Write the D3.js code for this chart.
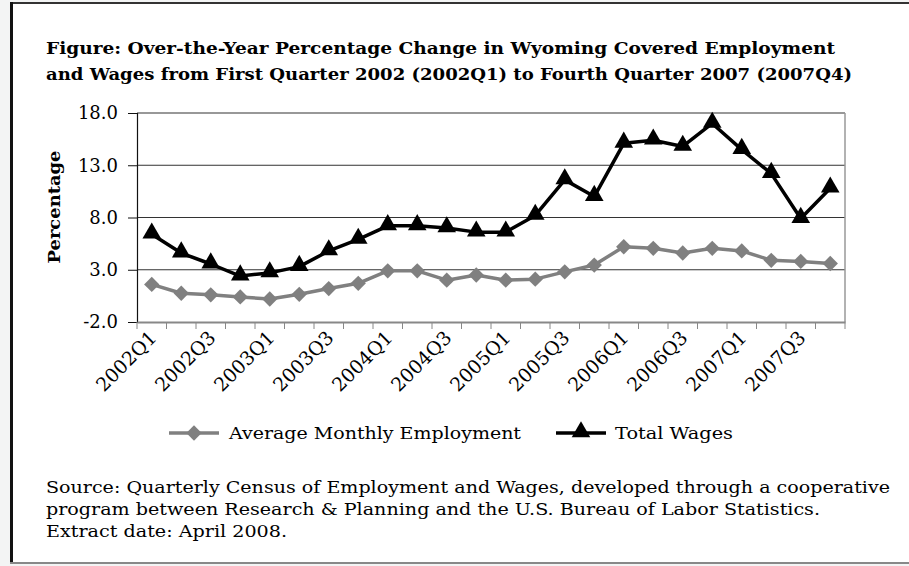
<!DOCTYPE html>
<html>
<head>
<meta charset="utf-8">
<script src="https://cdn.jsdelivr.net/npm/d3@7"></script>
<style>
  html, body { margin: 0; padding: 0; background: #f3f4f4; }
  svg { display: block; }
  text { font-family: "DejaVu Serif", serif; fill: #000; }
</style>
</head>
<body>
<svg id="chart" width="909" height="566"></svg>
<script>
const quarters = ["2002Q1","2002Q2","2002Q3","2002Q4","2003Q1","2003Q2","2003Q3","2003Q4",
  "2004Q1","2004Q2","2004Q3","2004Q4","2005Q1","2005Q2","2005Q3","2005Q4",
  "2006Q1","2006Q2","2006Q3","2006Q4","2007Q1","2007Q2","2007Q3","2007Q4"];
const employment = [1.6, 0.75, 0.6, 0.4, 0.2, 0.65, 1.2, 1.7, 2.9, 2.9, 2.0, 2.5,
  2.0, 2.1, 2.8, 3.45, 5.2, 5.05, 4.6, 5.05, 4.8, 3.9, 3.8, 3.6];
const wages = [6.4, 4.6, 3.55, 2.4, 2.7, 3.3, 4.8, 5.9, 7.2, 7.2, 7.0, 6.6,
  6.6, 8.2, 11.6, 10.0, 15.1, 15.4, 14.8, 17.0, 14.5, 12.2, 7.9, 10.8];
const yTicks = [-2, 3, 8, 13, 18];
const seriesNames = ["Average Monthly Employment", "Total Wages"];
const titleLines = [
  "Figure: Over-the-Year Percentage Change in Wyoming Covered Employment",
  "and Wages from First Quarter 2002 (2002Q1) to Fourth Quarter 2007 (2007Q4)"
];
const sourceLines = [
  "Source: Quarterly Census of Employment and Wages, developed through a cooperative",
  "program between Research & Planning and the U.S. Bureau of Labor Statistics.",
  "Extract date: April 2008."
];

const svg = d3.select("#chart");

// frame
svg.append("rect").attr("x", 12).attr("y", 4).attr("width", 909).attr("height", 558).attr("fill", "#fff");
svg.append("line").attr("x1", 11.5).attr("x2", 909).attr("y1", 3).attr("y2", 3).attr("stroke", "#333").attr("stroke-width", 2);
svg.append("line").attr("x1", 11.5).attr("x2", 11.5).attr("y1", 2).attr("y2", 564).attr("stroke", "#111").attr("stroke-width", 3);
svg.append("line").attr("x1", 10).attr("x2", 909).attr("y1", 563).attr("y2", 563).attr("stroke", "#888").attr("stroke-width", 2);

// title
const titleW = [789, 806];
titleLines.forEach((t, i) => {
  svg.append("text").attr("x", 46).attr("y", 54 + i * 26)
    .attr("font-size", 16).attr("font-weight", "bold")
    .attr("textLength", titleW[i]).attr("lengthAdjust", "spacingAndGlyphs")
    .text(t);
});

const pLeft = 137, pRight = 845, pTop = 113, pBottom = 322;
const x = d3.scaleBand().domain(quarters).range([pLeft, pRight]).padding(0);
const y = d3.scaleLinear().domain([-2, 18]).range([pBottom, pTop]);
const cx = q => x(q) + x.bandwidth() / 2;

// gridlines
svg.append("g").selectAll("line").data(yTicks.filter(v => v > -2)).join("line")
  .attr("x1", pLeft).attr("x2", pRight).attr("y1", d => y(d)).attr("y2", d => y(d))
  .attr("stroke", "#333").attr("stroke-width", 1);

// plot border top & right (gray)
svg.append("line").attr("x1", pLeft).attr("x2", pRight).attr("y1", pTop).attr("y2", pTop).attr("stroke", "#999").attr("stroke-width", 1.5);
svg.append("line").attr("x1", pRight).attr("x2", pRight).attr("y1", pTop).attr("y2", pBottom).attr("stroke", "#999").attr("stroke-width", 1.5);

// y axis
const yAxis = d3.axisLeft(y).tickValues(yTicks)
  .tickFormat(d => d3.format(".1f")(d).replace("\u2212", "-"))
  .tickSize(9).tickPadding(10);
const gy = svg.append("g").attr("transform", `translate(${pLeft},0)`).call(yAxis);
gy.select(".domain").attr("stroke", "#111").attr("stroke-width", 1.2);
gy.selectAll(".tick line").attr("stroke", "#111");
gy.selectAll(".tick text").attr("font-family", "DejaVu Serif").attr("font-size", 18).attr("fill", "#000");

// x axis
const xAxis = d3.axisBottom(x).tickSize(0).tickFormat("");
const gx = svg.append("g").attr("transform", `translate(0,${pBottom})`).call(xAxis);
gx.select(".domain").attr("stroke", "#888").attr("stroke-width", 2);
gx.selectAll(".tick").remove();
const bounds = quarters.map(q => x(q)).concat([pRight]);
gx.selectAll("line.bt").data(bounds).join("line").attr("class", "bt")
  .attr("x1", d => d).attr("x2", d => d).attr("y1", 0).attr("y2", 7)
  .attr("stroke", "#888").attr("stroke-width", 1);
gx.selectAll("text.xl").data(quarters.filter((q, i) => i % 2 === 0)).join("text").attr("class", "xl")
  .attr("text-anchor", "end")
  .attr("font-size", 19)
  .attr("transform", d => `translate(${cx(d) + 6},${17}) rotate(-45)`)
  .text(d => d);

// y axis title
svg.append("text").attr("transform", `translate(60,207) rotate(-90)`)
  .attr("text-anchor", "middle").attr("font-size", 16).attr("font-weight", "bold")
  .attr("textLength", 113).attr("lengthAdjust", "spacingAndGlyphs")
  .text("Percentage");

// lines
const line = d3.line().x((d, i) => cx(quarters[i])).y(d => y(d));
svg.append("path").datum(employment).attr("d", line).attr("fill", "none")
  .attr("stroke", "#808080").attr("stroke-width", 3.5).attr("stroke-linejoin", "round");
svg.append("path").datum(wages).attr("d", line).attr("fill", "none")
  .attr("stroke", "#000").attr("stroke-width", 3.5).attr("stroke-linejoin", "round");

const diamond = d3.symbol().type(d3.symbolDiamond2).size(150);
const triangle = d3.symbol().type(d3.symbolTriangle).size(150);

svg.append("g").selectAll("path").data(employment).join("path")
  .attr("d", diamond).attr("fill", "#808080")
  .attr("transform", (d, i) => `translate(${cx(quarters[i])},${y(d)})`);
svg.append("g").selectAll("path").data(wages).join("path")
  .attr("d", triangle).attr("fill", "#000")
  .attr("transform", (d, i) => `translate(${cx(quarters[i])},${y(d) - 1})`);

// legend
const ly = 433;
const leg = svg.append("g");
leg.append("line").attr("x1", 169).attr("x2", 219).attr("y1", ly).attr("y2", ly).attr("stroke", "#808080").attr("stroke-width", 3.5);
leg.append("path").attr("d", diamond).attr("fill", "#808080").attr("transform", `translate(194,${ly})`);
leg.append("text").attr("x", 229).attr("y", ly + 6).attr("font-size", 17)
  .attr("textLength", 292).attr("lengthAdjust", "spacingAndGlyphs").text(seriesNames[0]);
leg.append("line").attr("x1", 556).attr("x2", 606).attr("y1", ly).attr("y2", ly).attr("stroke", "#000").attr("stroke-width", 3.5);
leg.append("path").attr("d", triangle).attr("fill", "#000").attr("transform", `translate(581,${ly - 1})`);
leg.append("text").attr("x", 615).attr("y", ly + 6).attr("font-size", 17)
  .attr("textLength", 118).attr("lengthAdjust", "spacingAndGlyphs").text(seriesNames[1]);

// source
const srcW = [844, 774, 241];
sourceLines.forEach((t, i) => {
  svg.append("text").attr("x", 46).attr("y", 493 + i * 22).attr("font-size", 17)
    .attr("textLength", srcW[i]).attr("lengthAdjust", "spacingAndGlyphs").text(t);
});
</script>
</body>
</html>
